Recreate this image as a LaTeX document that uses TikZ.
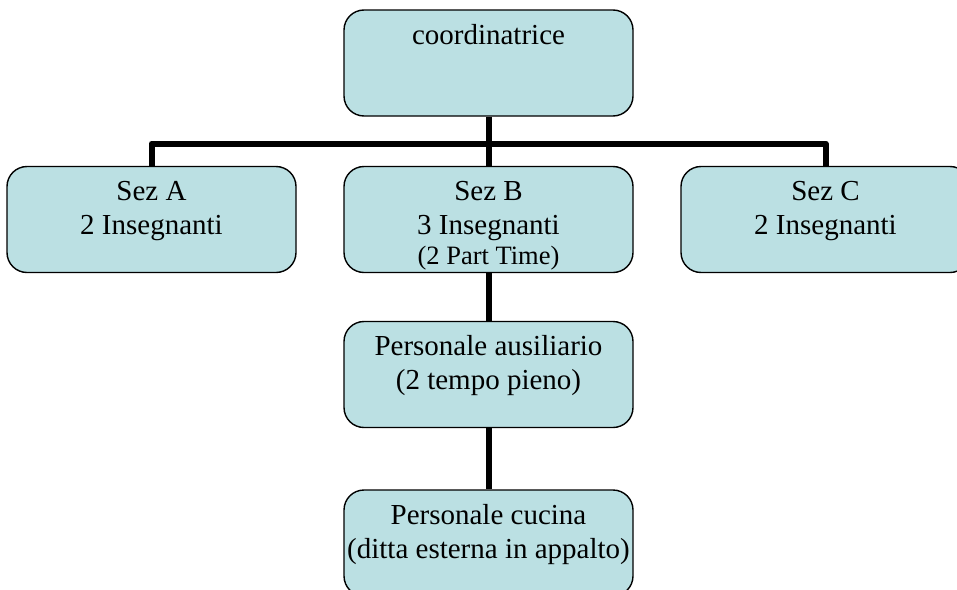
\documentclass[tikz,border=0pt]{standalone}
\usepackage{fontspec}
\setmainfont{Liberation Serif}
\definecolor{boxblue}{RGB}{187,224,227}
\newcommand{\boxtxt}[1]{\parbox[c][106pt][t]{289pt}{\centering\rule{0pt}{34pt}#1}}
\begin{document}
\begin{tikzpicture}[x=1pt, y=-1pt, font=\fontsize{29}{34}\selectfont, line join=round,
	box/.style={draw, line width=1.4pt, rounded corners=20pt, fill=boxblue, inner sep=0pt},
	conn/.style={line width=6pt}]
	\useasboundingbox (0,0) rectangle (957,589);
	\clip (0,0) rectangle (957,589);
	\node[box] (coord) at (488.5,63) {\boxtxt{coordinatrice}};
	\node[box] (sezA) at (151.5,219.5) {\boxtxt{Sez A\\2 Insegnanti}};
	\node[box] (sezB) at (488.5,219.5) {\boxtxt{Sez B\\3 Insegnanti\\[-4pt]{\fontsize{26.5}{30}\selectfont(2 Part Time)}}};
	\node[box] (sezC) at (825.5,219.5) {\boxtxt{Sez C\\2 Insegnanti}};
	\node[box] (aus) at (488.5,374.5) {\boxtxt{Personale ausiliario\\(2 tempo pieno)}};
	\node[box] (cucina) at (488.5,543) {\boxtxt{Personale cucina\\(ditta esterna in appalto)}};
	\coordinate (bar) at (488.5,143.5);
	\draw[conn] (coord)--(sezB);
	\draw[conn] (sezA.north)|-(bar)-|(sezC.north);
	\draw[conn] (sezB)--(aus);
	\draw[conn] (aus)--(cucina);
\end{tikzpicture}
\end{document}
